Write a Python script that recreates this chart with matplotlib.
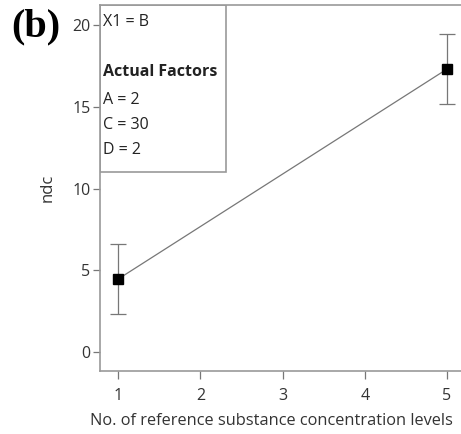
import matplotlib.pyplot as plt

# data
levels = [1, 5]
ndc = [4.47, 17.3]
ndc_err = [2.12, 2.12]
xticks = [1, 2, 3, 4, 5]
yticks = [0, 5, 10, 15, 20]
factor_lines = ['A = 2', 'C = 30', 'D = 2']

plt.rcParams['font.family'] = ['Open Sans', 'DejaVu Sans']

fig = plt.figure(figsize=(4.61, 4.34), dpi=100)
ax = fig.add_axes([0.217, 0.145, 0.783, 0.843])

# line + error bars
ax.errorbar(levels, ndc, yerr=ndc_err, color='#777777', lw=0.9,
            capsize=6, capthick=0.9, elinewidth=0.9, zorder=2)
ax.plot(levels, ndc, 's', color='black', markersize=6.5, zorder=3)

ax.set_xlim(0.78, 5.17)
ax.set_ylim(-1.15, 21.2)
ax.set_xticks(xticks)
ax.set_yticks(yticks)
ax.tick_params(colors='#777777', labelcolor='#333333', labelsize=11.5, width=0.9)
ax.tick_params(axis='x', length=6, pad=6)
ax.tick_params(axis='y', length=5, pad=2)

for side in ['left', 'bottom', 'top']:
    ax.spines[side].set_color('#999999')
    ax.spines[side].set_linewidth(1.2)
ax.spines['right'].set_visible(False)

ax.set_xlabel('No. of reference substance concentration levels', fontsize=11.8, color='#333333')
ax.xaxis.set_label_coords(0.474, -0.115)
ax.set_ylabel('ndc', fontsize=12, color='#333333', labelpad=12)

# factor box in the upper left corner
box = plt.Rectangle((0.0, 0.544), 0.349, 0.456, transform=ax.transAxes, fill=False,
                    edgecolor='#999999', lw=1.2, zorder=4)
ax.add_patch(box)
ax.text(0.008, 0.954, 'X1 = B', transform=ax.transAxes, fontsize=11.5, va='center', color='#222222')
ax.text(0.008, 0.817, 'Actual Factors', transform=ax.transAxes, fontsize=11.5, va='center',
        fontweight='bold', color='#222222')
y = 0.740
for line in factor_lines:
    ax.text(0.008, y, line, transform=ax.transAxes, fontsize=11.5, va='center', color='#222222')
    y -= 0.068

fig.text(0.025, 0.938, '(b)', fontsize=29, fontweight='bold', family='Liberation Serif', va='center')

fig.savefig('out.png', dpi=100)
